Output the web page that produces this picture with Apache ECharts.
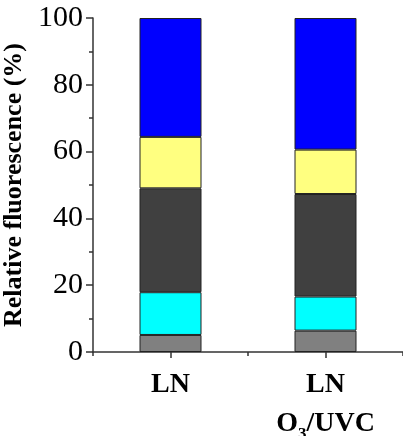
<!DOCTYPE html>
<html>
<head>
<meta charset="utf-8">
<script src="https://cdn.jsdelivr.net/npm/echarts@6/dist/echarts.min.js"></script>
<style>
  html, body { margin: 0; padding: 0; background: #fff; }
  #chart { width: 403px; height: 436px; }
</style>
</head>
<body>
<div id="chart"></div>
<script>
// Samples and the stacked fluorescence fractions (%), bottom to top
const categories = ['LN', 'LN O3/UVC'];
const seriesGray   = [5.1, 6.4];
const seriesCyan   = [12.8, 10.2];
const seriesDark   = [31.1, 30.7];
const seriesYellow = [15.4, 13.3];
const seriesBlue   = [35.6, 39.4];
const yTicks = [0, 20, 40, 60, 80, 100];

const serif = 'Liberation Serif';
const stackDefs = [
  { name: 'gray',   data: seriesGray,   color: '#808080' },
  { name: 'cyan',   data: seriesCyan,   color: '#00ffff' },
  { name: 'dark',   data: seriesDark,   color: '#404040' },
  { name: 'yellow', data: seriesYellow, color: '#ffff80' },
  { name: 'blue',   data: seriesBlue,   color: '#0000ff' }
];

const chart = echarts.init(document.getElementById('chart'), null, { renderer: 'canvas' });

const labelFormatter = function (v) {
  if (v === 'LN') return '{b|LN}';
  return '{b|LN}\n{b|O}{s|3}{b|/UVC}';
};

chart.setOption({
  animation: false,
  grid: { left: 93, right: 0, top: 18, bottom: 84, containLabel: false, outerBoundsMode: 'none' },
  xAxis: [
    {
      type: 'category',
      data: categories,
      axisLine: { show: true, lineStyle: { color: '#333', width: 1.5 } },
      axisTick: { show: true, length: 4, lineStyle: { color: '#333', width: 1.5 } },
      axisLabel: {
        margin: 13,
        formatter: labelFormatter,
        rich: {
          b: { fontFamily: serif, fontWeight: 'bold', fontSize: 28, color: '#000', lineHeight: 39 },
          s: { fontFamily: serif, fontWeight: 'bold', fontSize: 17, color: '#000', lineHeight: 39, verticalAlign: 'bottom' }
        }
      },
      splitLine: { show: false }
    },
    {
      type: 'category',
      data: categories,
      position: 'bottom',
      axisLine: { show: false },
      axisTick: { show: true, alignWithLabel: true, length: 6, lineStyle: { color: '#333', width: 1.5 } },
      axisLabel: { show: false },
      splitLine: { show: false }
    }
  ],
  yAxis: {
    type: 'value',
    min: yTicks[0],
    max: yTicks[yTicks.length - 1],
    interval: 20,
    name: 'Relative fluorescence (%)',
    nameLocation: 'middle',
    nameGap: 60,
    nameTextStyle: { fontFamily: serif, fontWeight: 'bold', fontSize: 26, color: '#000' },
    axisLine: { show: true, lineStyle: { color: '#333', width: 1.5 } },
    axisTick: { show: true, length: 7, lineStyle: { color: '#333', width: 1.5 } },
    minorTick: { show: true, splitNumber: 2, length: 4, lineStyle: { color: '#333', width: 1.5 } },
    axisLabel: { fontFamily: serif, fontSize: 30, color: '#000', margin: 10 },
    splitLine: { show: false }
  },
  series: stackDefs.map(d => ({
    name: d.name,
    type: 'bar',
    stack: 'total',
    barWidth: '40%',
    data: d.data,
    itemStyle: { color: d.color, borderColor: '#222', borderWidth: 1 }
  }))
});
</script>
</body>
</html>
